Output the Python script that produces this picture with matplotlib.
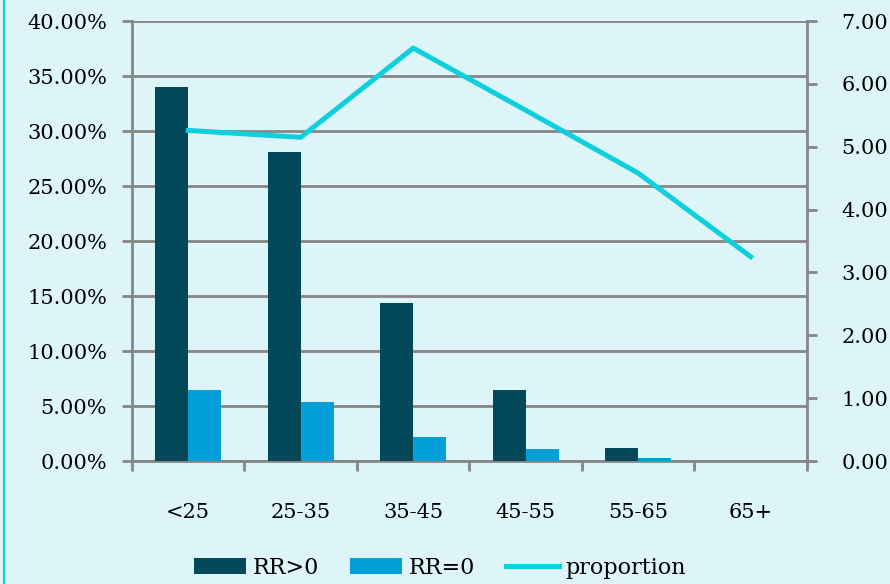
import numpy as np
import matplotlib.pyplot as plt
from matplotlib.lines import Line2D
from matplotlib.ticker import FuncFormatter, MultipleLocator

# age groups and the two bar series (share of customers, %)
categories = ["<25", "25-35", "35-45", "45-55", "55-65", "65+"]
rr_pos = [34.0, 28.1, 14.4, 6.45, 1.18, 0.0]
rr_zero = [6.45, 5.36, 2.18, 1.09, 0.27, 0.0]
# ratio line on the right axis
proportion = [5.26, 5.15, 6.57, 5.58, 4.58, 3.25]

bg = "#ddf4f8"
dark = "#03495a"
light = "#029fd8"
line_col = "#0dd0dc"
grid_col = "#868686"

plt.rcParams["font.family"] = ["DejaVu Serif"]

fig = plt.figure(figsize=(8.9, 5.84), dpi=100, facecolor=bg)
ax = fig.add_axes([0.1483, 0.2106, 0.7584, 0.7534], facecolor=bg)

x = np.arange(len(categories))
w = 0.293
ax.bar(x - w / 2, rr_pos, w, color=dark, label="RR>0", zorder=3)
ax.bar(x + w / 2, rr_zero, w, color=light, label="RR=0", zorder=3)

ax.set_xlim(-0.5, len(categories) - 0.5)
ax.set_ylim(0, 40)
ax.yaxis.set_major_locator(MultipleLocator(5))
ax.yaxis.set_major_formatter(FuncFormatter(lambda v, p: f"{v:.2f}%"))
ax.grid(axis="y", color=grid_col, linewidth=2, zorder=0)

ax.set_xticks(x)
ax.set_xticklabels(categories)
ax.set_xticks(np.arange(-0.5, len(categories)), minor=True)
ax.tick_params(axis="x", which="major", length=0, pad=30, labelsize=15)
ax.tick_params(axis="x", which="minor", length=7, width=2, color=grid_col)
ax.tick_params(axis="y", length=7, width=2, color=grid_col, labelsize=15, pad=11)

for side in ["top", "right"]:
    ax.spines[side].set_visible(False)
for side in ["left", "bottom"]:
    ax.spines[side].set_color(grid_col)
    ax.spines[side].set_linewidth(2)

ax2 = ax.twinx()
ax2.plot(x, proportion, color=line_col, linewidth=3.6, label="proportion", zorder=4)
ax2.set_ylim(0, 7)
ax2.yaxis.set_major_locator(MultipleLocator(1))
ax2.yaxis.set_major_formatter(FuncFormatter(lambda v, p: f"{v:.2f}"))
ax2.tick_params(axis="y", length=7, width=2, color=grid_col, labelsize=15, pad=18)
for side in ["top", "left", "bottom"]:
    ax2.spines[side].set_visible(False)
ax2.spines["right"].set_color(grid_col)
ax2.spines["right"].set_linewidth(2)

handles = ax.get_legend_handles_labels()[0] + ax2.get_legend_handles_labels()[0]
labels = ["RR>0", "RR=0", "proportion"]
fig.legend(handles, labels, loc="center", bbox_to_anchor=(0.494, 0.028), ncol=3,
           frameon=False, fontsize=16, handlelength=2.35, handletextpad=0.3,
           columnspacing=1.4)

# thin accent stripe on the left edge
fig.add_artist(Line2D([0.004, 0.004], [0, 1], color=line_col, linewidth=1.5,
                      transform=fig.transFigure))

fig.savefig("out.png", dpi=100, facecolor=bg)
